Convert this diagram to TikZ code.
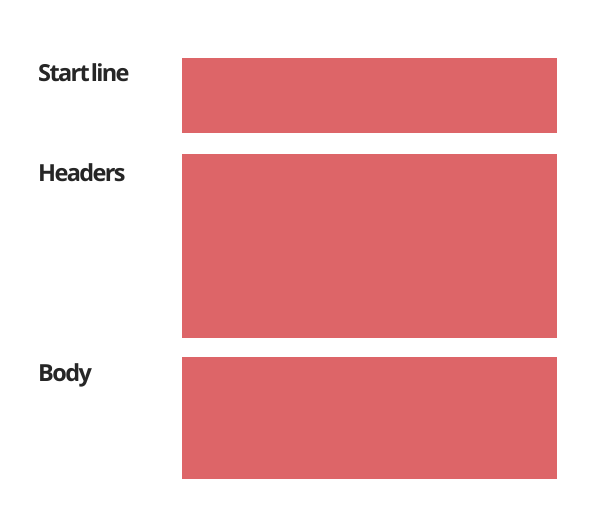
\documentclass[tikz,border=0pt]{standalone}
\usepackage{fontspec}
\setmainfont{Open Sans}[BoldFont={* Bold}]
\definecolor{boxred}{HTML}{DD6568}
\definecolor{labelgray}{HTML}{262626}
\begin{document}
\begin{tikzpicture}[x=1pt,y=-1pt,
  part/.style={fill=boxred,draw=none},
  lbl/.style={anchor=base west,inner sep=0pt,text=labelgray,font=\fontsize{23.5}{28}\selectfont\bfseries\addfontfeatures{LetterSpace=-7}}]
\useasboundingbox (0,0) rectangle (592,524);
\fill[part] (182,58) rectangle (557,133);
\fill[part] (182,154) rectangle (557,338);
\fill[part] (182,357) rectangle (557,479);
\node[lbl] (l1) at (38,82) {Start\hspace{1pt}line};
\node[lbl] (l2) at (38,181.5) {Headers};
\node[lbl] (l3) at (38,381) {Body};
\end{tikzpicture}
\end{document}
